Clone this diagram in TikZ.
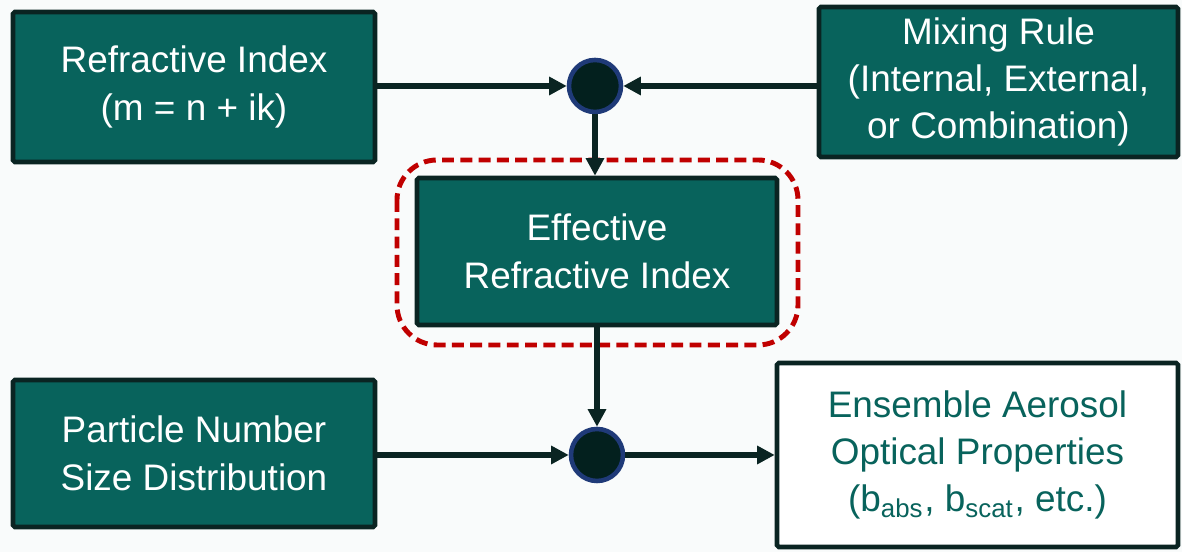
\documentclass[tikz,border=0pt]{standalone}
\usepackage{fontspec}
\setmainfont{Liberation Sans}
\usetikzlibrary{arrows.meta}
\definecolor{tealfill}{HTML}{08635C}
\definecolor{darkedge}{HTML}{0A2422}
\definecolor{dotfill}{HTML}{03201E}
\definecolor{dotedge}{HTML}{1F3A78}
\definecolor{dashred}{HTML}{C00000}
\definecolor{pagebg}{HTML}{F9FBFB}
\begin{document}
\begin{tikzpicture}[
    greenbox/.style={draw=darkedge, line width=1.3pt, fill=tealfill, text=white, align=center,
      font=\fontsize{10.5}{13.5}\selectfont, inner sep=0pt, rounded corners=0.5pt},
    outbox/.style={greenbox, fill=white, text=tealfill},
    junction/.style={circle, draw=dotedge, line width=1.3pt, fill=dotfill, minimum size=0.52cm, inner sep=0pt},
    arr/.style={draw=darkedge, line width=1.5pt, -{Triangle[length=5pt,width=5pt]}}
  ]
      \fill[pagebg] (0,0) rectangle (11.82,5.52);
      \useasboundingbox (0,0) rectangle (11.82,5.52);
      \node[greenbox, minimum width=3.62cm, minimum height=1.50cm] (ri) at (1.94,4.65) {Refractive Index\\(m = n + ik)};
      \node[greenbox, minimum width=3.59cm, minimum height=1.50cm] (mix) at (9.985,4.70) {Mixing Rule\\(Internal, External,\\or Combination)};
      \node[greenbox, minimum width=3.60cm, minimum height=1.47cm] (eff) at (5.97,3.005) {Effective\\Refractive Index};
      \node[greenbox, minimum width=3.62cm, minimum height=1.47cm] (psd) at (1.94,0.985) {Particle Number\\Size Distribution};
      \node[outbox, minimum width=4.01cm, minimum height=1.84cm] (ens) at (9.775,0.97) {Ensemble Aerosol\\Optical Properties\\(b\textsubscript{abs}, b\textsubscript{scat}, etc.)};
      \node[junction] (topc) at (5.95,4.66) {};
      \node[junction] (botc) at (5.97,0.97) {};
      % dashed frame round the effective index
      \draw[dashred, line width=1.4pt, dash pattern=on 3.4pt off 1.8pt, rounded corners=0.4cm] (3.97,3.92) rectangle (7.98,2.07);
      \draw[arr] (ri.east |- topc) -- (topc);
      \draw[arr] (mix.west |- topc) -- (topc);
      \draw[arr] (topc) -- (topc |- eff.north);
      \draw[arr] (eff.south -| botc) -- (botc);
      \draw[arr] (psd.east |- botc) -- (botc);
      \draw[arr] (botc) -- (ens.west |- botc);
    \end{tikzpicture}
\end{document}
